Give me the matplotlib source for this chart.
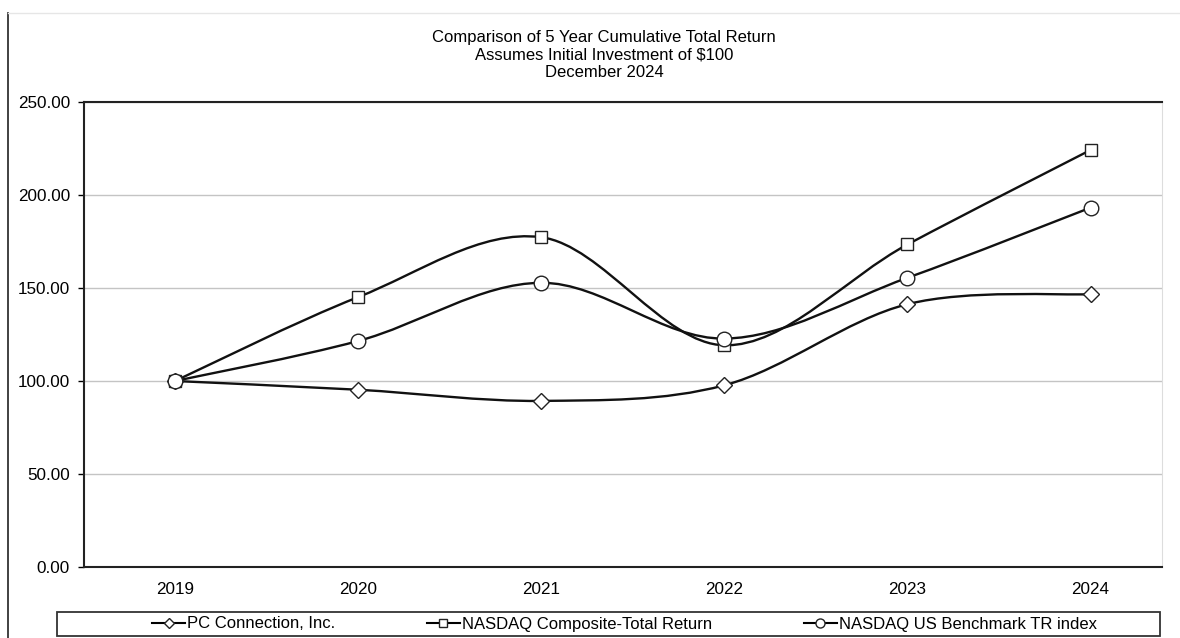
import matplotlib
matplotlib.use("Agg")
import matplotlib.pyplot as plt
from matplotlib.path import Path
from matplotlib.patches import PathPatch, Rectangle
from matplotlib.lines import Line2D
import numpy as np

plt.rcParams['font.family'] = ['Liberation Sans', 'DejaVu Sans']

# values
years = ['2019', '2020', '2021', '2022', '2023', '2024']
pc_connection = [100.00, 95.3, 89.3, 97.7, 141.3, 146.7]
nasdaq_composite = [100.00, 145.1, 177.3, 119.2, 173.4, 224.2]
nasdaq_benchmark = [100.00, 121.5, 152.8, 122.8, 155.5, 193.2]
series_names = ['PC Connection, Inc.', 'NASDAQ Composite-Total Return',
                'NASDAQ US Benchmark TR index']
y_ticks = [0, 50, 100, 150, 200, 250]
title_lines = ['Comparison of 5 Year Cumulative Total Return',
               'Assumes Initial Investment of $100',
               'December 2024']


def smooth_path(xs, ys):
    """Bezier curve through the points, like Excel's smoothed lines."""
    pts = np.column_stack([xs, ys]).astype(float)
    n = len(pts)
    verts = [pts[0]]
    codes = [Path.MOVETO]
    for i in range(n - 1):
        p0 = pts[max(i - 1, 0)]
        p1 = pts[i]
        p2 = pts[i + 1]
        p3 = pts[min(i + 2, n - 1)]
        verts += [p1 + (p2 - p0) / 6, p2 - (p3 - p1) / 6, p2]
        codes += [Path.CURVE4] * 3
    return Path(verts, codes)


W, H = 1180, 638
fig = plt.figure(figsize=(W / 100, H / 100), dpi=100)
ax = fig.add_axes([84 / W, 1 - 567 / H, (1162 - 84) / W, (567 - 102) / H])

x = np.arange(len(years))
styles = [('D', 8), ('s', 8.5), ('o', 10.5)]
all_series = [pc_connection, nasdaq_composite, nasdaq_benchmark]

for vals, (m, ms) in zip(all_series, styles):
    patch = PathPatch(smooth_path(x, vals), fill=False, edgecolor='#111111',
                      lw=1.7, zorder=3)
    ax.add_patch(patch)
    ax.plot(x, vals, linestyle='none', marker=m, ms=ms, mfc='white',
            mec='#222222', mew=1.0, zorder=4)

ax.set_xlim(-0.497, 5.39)
ax.set_ylim(0, 250)
ax.set_xticks(x)
ax.set_xticklabels(years)
ax.set_yticks(y_ticks)
ax.set_yticklabels(['%.2f' % v for v in y_ticks])
ax.tick_params(axis='x', length=0, pad=11, labelsize=12.3)
ax.tick_params(axis='y', length=4, width=1, direction='out', pad=6,
               labelsize=12.3)
ax.yaxis.grid(True, color='#c4c4c4', lw=1)
ax.set_axisbelow(True)
for side in ['top', 'left', 'bottom']:
    ax.spines[side].set_linewidth(1.5)
    ax.spines[side].set_color('#222222')
ax.spines['right'].set_color('#dddddd')

for i, line in enumerate(title_lines):
    fig.text(604 / W, 1 - (37.5 + 17.5 * i) / H, line, ha='center', va='center',
             fontsize=12)

# legend in a box under the plot
fig.patches.append(Rectangle((57 / W, 1 - 636 / H), (1160 - 57) / W, 24 / H,
                             transform=fig.transFigure, fill=False,
                             edgecolor='#333333', lw=1.3))
handles = [Line2D([], [], color='black', lw=1.5, marker=m, ms=ms * 0.62,
                  mfc='white', mec='#222222') for m, ms in styles]
fig.legend(handles, series_names, loc='center left',
           bbox_to_anchor=(152 / W, 1 - 624 / H), ncol=3, frameon=False,
           fontsize=12, handlelength=2.0, handletextpad=0.1,
           columnspacing=5.5, borderpad=0, borderaxespad=0)

# outer frame of the page
fig.lines.append(Line2D([8 / W, 8 / W], [0, 1 - 13 / H], transform=fig.transFigure,
                        color='#333333', lw=1.3))
fig.lines.append(Line2D([8 / W, 1], [1 - 13 / H, 1 - 13 / H],
                        transform=fig.transFigure, color='#e6e6e6', lw=1))

fig.savefig('out.png', dpi=100)
